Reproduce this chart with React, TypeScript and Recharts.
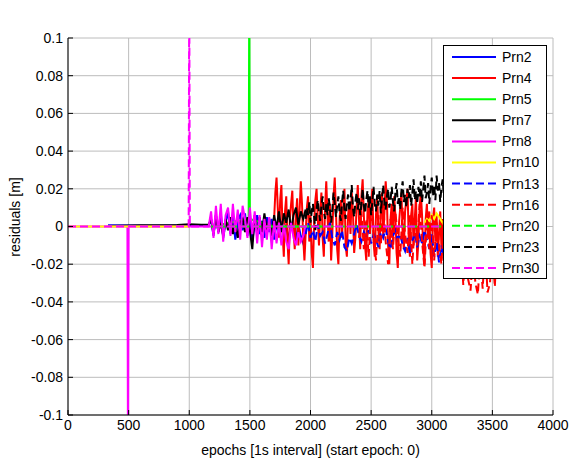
import React from 'react';
import { LineChart, Line, CartesianGrid, XAxis, YAxis, Legend, Label } from 'recharts';

// epoch spacing of the noisy parts
const STEP = 20;
const FINE = 10;

const xTicks = [0, 500, 1000, 1500, 2000, 2500, 3000, 3500, 4000];
const yTicks = [-0.1, -0.08, -0.06, -0.04, -0.02, 0, 0.02, 0.04, 0.06, 0.08, 0.1];

// Prn2
const prn2Flat: [number, number][] = [[330, 0.0006], [700, 0.0004], [1000, 0.0006], [1160, 0.0004]];
const prn2Start = 1180;
const prn2Vals = [0.004, -0.005, 0.006, -0.003, 0.007, -0.006, 0.002, 0.008, -0.004, 0.005, -0.007, 0.003, 0.006, -0.002, 0.007, -0.005, 0.004, -0.008, 0.002, 0.006, -0.004, 0.003, -0.006, 0.005, -0.003, 0.004, -0.007, 0.002, -0.005, 0.003, -0.006, 0.001, -0.008, 0.002, -0.004, -0.007, 0.001, -0.005, -0.009, -0.003];

// Prn4 (every 10 epochs)
const prn4Start = 1700;
const prn4Vals = [
  0.004, 0.018, 0.026, 0.01, -0.006, 0.014, 0.022, -0.004, -0.016, 0.008,
  0.016, -0.008, -0.02, 0.004, 0.012, 0.019, -0.002, -0.012, 0.006, 0.015,
  -0.01, 0.008, 0.024, 0.012, -0.006, -0.018, -0.004, 0.01, 0.016, -0.008,
  0.006, -0.014, -0.022, 0.002, 0.014, 0.02, 0.004, -0.01, 0.008, 0.018,
  -0.006, -0.016, 0.01, 0.024, 0.006, -0.008, 0.012, -0.018, -0.004, 0.016,
  0.026, 0.008, -0.012, -0.02, 0.004, 0.014, -0.006, 0.01, 0.02, -0.01,
  -0.016, 0.006, 0.012, -0.004, 0.018, 0.008, -0.014, -0.006, 0.01, 0.022,
  0.004, -0.012, 0.016, 0.025, 0.006, -0.01, -0.018, 0.008, 0.014, -0.004,
  0.012, 0.02, -0.008, -0.016, 0.006, 0.016, -0.002, -0.012, 0.01, 0.018,
  -0.006, 0.008, 0.024, 0.014, -0.01, -0.02, 0.004, 0.012, -0.008, 0.016,
  0.006, -0.014, -0.022, 0.002, 0.01, 0.018, -0.004, -0.012, 0.008, 0.014,
  0.02, -0.006, -0.016, 0.006, 0.012, -0.01, 0.004, 0.016, -0.018, -0.008,
  0.01, 0.018, 0.006, -0.012, -0.02, 0.004, 0.012, -0.006, 0.008, -0.014,
  -0.022, 0.004, 0.01, -0.008, 0.006, -0.016, -0.004, 0.008, -0.012, 0.004,
  -0.018, -0.006, 0.006, -0.01, 0.002, -0.014, 0.002,
];

// Prn5 (jump at 1495)
const prn5Pts: [number, number][] = [[1180, 0], [1490, 0.004], [1495, 0.13], [1500, 0.004], [1700, 0], [2100, 0]];

// Prn7
const prn7Flat: [number, number][] = [[330, 0.0003], [600, 0.0006], [900, 0.0008], [1000, 0.0012], [1100, 0.0009], [1160, 0.001]];
const prn7Start = 1180;
const prn7Vals = [0.004, -0.004, 0.006, -0.003, 0.002, -0.005, 0.004, -0.002, 0.005, -0.004, 0.003, -0.006, 0.002, 0.004, -0.003, 0.005, -0.002, -0.012, 0.006, -0.004, 0.005, -0.003, 0.007, -0.002, 0.004, -0.005, 0.006, -0.001, 0.008, -0.003, 0.007, 0.002, 0.009, -0.002, 0.006, 0.01, 0.001, 0.008, 0.004, 0.009];

// Prn8 (jump at 495)
const prn8Flat: [number, number][] = [[0, 0], [490, 0], [495, -0.13], [500, 0], [1160, 0]];
const prn8Start = 1180;
const prn8Vals = [0.008, -0.006, 0.011, -0.004, 0.012, -0.008, 0.006, 0.01, -0.005, 0.012, -0.003, 0.009, -0.007, 0.011, 0.004, -0.006, 0.01, -0.004, 0.008, -0.009, 0.006, -0.011, 0.004, -0.007, 0.005, -0.012, 0.003, -0.009, 0.002, -0.01, 0.001, -0.008, -0.012, 0.002, -0.006, -0.01, -0.003, -0.008, -0.005, 0];

// Prn10
const prn10Flat: [number, number | null][] = [[0, 0], [1000, 0], [1001, null]];
const prn10Start = 2940;
const prn10Vals = [0.002, 0.004, 0.003, 0.006, 0.004, 0.007, 0.005, 0.003, 0.001];

// Prn13
const prn13Start = 1960;
const prn13Vals = [-0.004, 0.002, -0.006, -0.002, -0.008, 0.001, -0.005, -0.003, -0.009, -0.004, 0.002, -0.006, -0.01, -0.003, -0.007, -0.002, -0.011, -0.013, -0.006, -0.009, -0.004, 0.001, -0.005, -0.008, -0.003, -0.006, -0.002, -0.009, -0.004, -0.007, -0.011, -0.003, -0.006, -0.001, -0.008, -0.012, -0.005, -0.002, -0.007, -0.004, -0.01, -0.013, -0.006, -0.015, -0.008, -0.003, -0.011, -0.005, -0.009, -0.002, -0.007, -0.012, -0.004, -0.016, -0.008, -0.019, -0.01, -0.017, -0.006, -0.013, -0.018, -0.009, -0.004];

// Prn16
const prn16Start = 2400;
const prn16Vals = [-0.006, 0.008, -0.012, 0.004, -0.016, 0.01, -0.004, -0.018, 0.006, -0.01, 0.012, -0.008, -0.02, 0.004, -0.012, 0.008, -0.006, -0.016, 0.01, -0.004, -0.014, 0.006, -0.02, 0.002, -0.01, 0.012, -0.008, -0.022, 0.004, -0.012, 0.006, -0.018, 0.002, -0.01, -0.02, 0.004, -0.014, -0.006, -0.018, 0.002, -0.012, -0.02, -0.008,
  -0.031, -0.012, -0.028, -0.034, -0.014, -0.03, -0.036, -0.016, -0.033, -0.01, -0.035, -0.03, -0.012, -0.032, -0.006];

// Prn20
const prn20Pts: [number, number][] = [[1180, 0], [3600, 0]];

// Prn23 (every 10 epochs)
const prn23Start = 1960;
const prn23Vals = [
  0.004, 0.01, 0.006, 0.013, 0.002, 0.008, 0.012, 0.005, -0.002, 0.009,
  0.014, 0.007, 0.003, 0.011, 0.016, 0.008, 0.004, 0.012, 0.006, 0.015,
  0.01, 0.002, 0.009, 0.018, 0.012, 0.005, 0.011, 0.016, 0.007, 0.003,
  0.013, 0.019, 0.009, 0.004, 0.012, 0.017, 0.008, 0.014, 0.022, 0.01,
  0.005, 0.013, 0.018, 0.009, 0.015, 0.006, 0.012, 0.02, 0.011, 0.007,
  0.014, 0.019, 0.01, 0.016, 0.006, 0.013, 0.021, 0.012, 0.008, 0.017,
  0.011, 0.019, 0.007, 0.015, 0.022, 0.012, 0.009, 0.016, 0.02, 0.01,
  0.014, 0.021, 0.013, 0.008, 0.018, 0.023, 0.012, 0.016, 0.009, 0.019,
  0.024, 0.013, 0.017, 0.01, 0.02, 0.015, 0.022, 0.011, 0.018, 0.025,
  0.014, 0.019, 0.012, 0.021, 0.016, 0.024, 0.013, 0.02, 0.027, 0.015,
  0.018, 0.023, 0.012, 0.02, 0.026, 0.016, 0.022, 0.014, 0.027, 0.019,
  0.023, 0.013, 0.021, 0.025, 0.016, 0.02, 0.012, 0.024, 0.018, 0.015,
  0.02,
];

// Prn30 (jump at 1000)
const prn30Pts: [number, number][] = [[0, 0], [995, 0], [1000, 0.13], [1005, 0], [3600, 0]];

type Pt = { x: number; y: number | null };
const pairs = (p: [number, number | null][]): Pt[] => p.map(([x, y]) => ({ x, y }));
const seg = (start: number, vals: number[], step = STEP): Pt[] => vals.map((y, i) => ({ x: start + i * step, y }));

const series = [
  { name: 'Prn2', color: '#0000ff', dashed: false, data: [...pairs(prn2Flat), ...seg(prn2Start, prn2Vals)] },
  { name: 'Prn4', color: '#ff0000', dashed: false, data: seg(prn4Start, prn4Vals, FINE) },
  { name: 'Prn5', color: '#00ff00', dashed: false, data: pairs(prn5Pts) },
  { name: 'Prn7', color: '#000000', dashed: false, data: [...pairs(prn7Flat), ...seg(prn7Start, prn7Vals)] },
  { name: 'Prn8', color: '#ff00ff', dashed: false, data: [...pairs(prn8Flat), ...seg(prn8Start, prn8Vals)] },
  { name: 'Prn10', color: '#ffff00', dashed: false, data: [...pairs(prn10Flat), ...seg(prn10Start, prn10Vals)] },
  { name: 'Prn13', color: '#0000ff', dashed: true, data: seg(prn13Start, prn13Vals) },
  { name: 'Prn16', color: '#ff0000', dashed: true, data: seg(prn16Start, prn16Vals) },
  { name: 'Prn20', color: '#00ff00', dashed: true, data: pairs(prn20Pts) },
  { name: 'Prn23', color: '#000000', dashed: true, data: seg(prn23Start, prn23Vals, FINE) },
  { name: 'Prn30', color: '#ff00ff', dashed: true, data: pairs(prn30Pts) },
];

const fmtY = (v: number) => String(Math.round(v * 100) / 100);
const blank = () => '';

const LegendBox = () => (
  <svg width={104} height={234} style={{ display: 'block' }}>
    <rect x={0.5} y={0.5} width={103} height={233} fill="#fff" stroke="#000" />
    {series.map((s, i) => {
      const cy = 12 + i * 21.1;
      return (
        <g key={s.name}>
          <line x1={9} x2={53} y1={cy} y2={cy} stroke={s.color} strokeWidth={2}
            strokeDasharray={s.dashed ? '8 4' : undefined} />
          <text x={59} y={cy} dy="0.35em" fontSize={14} fill="#000">{s.name}</text>
        </g>
      );
    })}
  </svg>
);

export default function App() {
  return (
    <div style={{ position: 'absolute', left: 0, top: 0, background: '#fff', fontFamily: '"Liberation Sans", Arial, sans-serif' }}>
      <LineChart width={570} height={459} margin={{ top: 38, right: 17, bottom: 0, left: 0 }}>
        <CartesianGrid stroke="#bcbcbc" />
        <XAxis dataKey="x" type="number" domain={[0, 4000]} ticks={xTicks} allowDataOverflow
          height={44} stroke="#000" tickSize={-5} tickMargin={10} tick={{ fontSize: 14, fill: '#000' }}>
          <Label value="epochs [1s interval] (start epoch: 0)" position="insideBottom" offset={4}
            style={{ fontSize: 14, fill: '#000' }} />
        </XAxis>
        <XAxis xAxisId="top" orientation="top" dataKey="x" type="number" domain={[0, 4000]} ticks={xTicks}
          height={0} stroke="#000" tickSize={-5} tickFormatter={blank}>
          <Label value="Residuals of observations [m]" position="top" offset={12}
            style={{ fontSize: 15.5, fill: '#000' }} />
        </XAxis>
        <YAxis type="number" domain={[-0.1, 0.1]} ticks={yTicks} allowDataOverflow width={68}
          stroke="#000" tickSize={-5} tickMargin={10} tickFormatter={fmtY} tick={{ fontSize: 14, fill: '#000' }}
          label={{
            content: () => (
              <text x={15} y={217} transform="rotate(-90 15 217)" textAnchor="middle" dy="0.35em"
                fontSize={14} fill="#000">residuals [m]</text>
            ),
          }} />
        <YAxis yAxisId="right" orientation="right" type="number" domain={[-0.1, 0.1]} ticks={yTicks}
          width={0} stroke="#000" tickSize={-5} tickFormatter={blank} />
        {series.map((s) => (
          <Line key={s.name} data={s.data} dataKey="y" name={s.name} stroke={s.color} strokeWidth={2}
            strokeDasharray={s.dashed ? '8 4' : undefined}
            strokeDashoffset={s.name === 'Prn20' ? 6 : undefined}
            dot={false} activeDot={false} isAnimationActive={false} />
        ))}
        <Legend content={LegendBox} layout="horizontal" verticalAlign="middle" align="center"
          wrapperStyle={{ left: 443, top: 45, width: 104, height: 234 }} />
      </LineChart>
    </div>
  );
}
